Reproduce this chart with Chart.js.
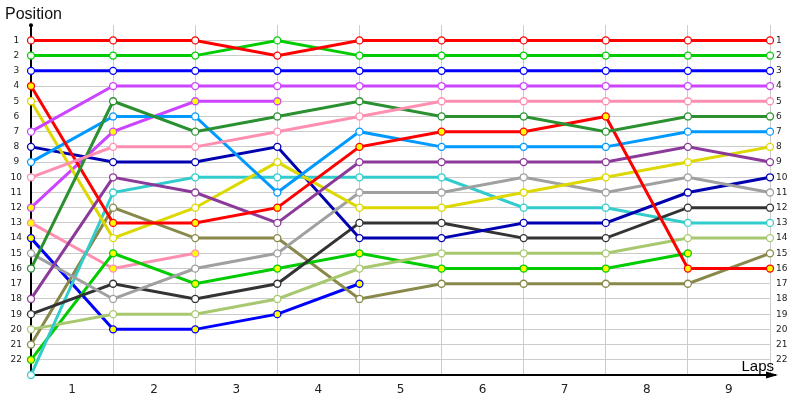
<!DOCTYPE html>
<html>
<head>
<meta charset="utf-8">
<script src="https://cdn.jsdelivr.net/npm/chart.js@4.4.0/dist/chart.umd.min.js"></script>
<style>
  html, body { margin: 0; padding: 0; background: #fff; }
  #wrap { width: 800px; height: 400px; }
</style>
</head>
<body>
<div id="wrap"><canvas id="posChart"></canvas></div>
<script>
// lap gridlines 0..9, labels sit between them
const laps = [0, 1, 2, 3, 4, 5, 6, 7, 8, 9];
const lapLabels = ['1', '2', '3', '4', '5', '6', '7', '8', '9'];
const positionLabels = ['1','2','3','4','5','6','7','8','9','10','11','12','13','14','15','16','17','18','19','20','21','22'];

// positions per lap (null = retired)
const redA       = [1, 1, 1, 2, 1, 1, 1, 1, 1, 1];
const redB       = [4, 13, 13, 12, 8, 7, 7, 6, 16, 16];
const greenA     = [2, 2, 2, 1, 2, 2, 2, 2, 2, 2];
const greenB     = [22, 15, 17, 16, 15, 16, 16, 16, 15, null];
const blueA      = [3, 3, 3, 3, 3, 3, 3, 3, 3, 3];
const blueB      = [14, 20, 20, 19, 17, null, null, null, null, null];
const violetA    = [7, 4, 4, 4, 4, 4, 4, 4, 4, 4];
const violetB    = [12, 7, 5, 5, null, null, null, null, null, null];
const yellow     = [5, 14, 12, 9, 12, 12, 11, 10, 9, 8];
const lightBlue  = [9, 6, 6, 11, 7, 8, 8, 8, 7, 7];
const navy       = [8, 9, 9, 8, 14, 14, 13, 13, 11, 10];
const pinkA      = [10, 8, 8, 7, 6, 5, 5, 5, 5, 5];
const pinkB      = [13, 16, 15, null, null, null, null, null, null, null];
const darkGreen  = [16, 5, 7, 6, 5, 6, 6, 7, 6, 6];
const cyan       = [23, 11, 10, 10, 10, 10, 12, 12, 13, 13];
const purple     = [18, 10, 11, 13, 9, 9, 9, 9, 8, 9];
const gray       = [15, 18, 16, 15, 11, 11, 10, 11, 10, 11];
const black      = [19, 17, 18, 17, 13, 13, 14, 14, 12, 12];
const lightGreen = [20, 19, 19, 18, 16, 15, 15, 15, 14, 14];
const olive      = [21, 12, 14, 14, 18, 17, 17, 17, 17, 15];

function line(values, color, second) {
  return {
    data: laps.map((x, i) => ({ x: x, y: values[i] })),
    borderColor: color,
    backgroundColor: color,
    borderWidth: 3,
    pointRadius: 3.5,
    pointBorderWidth: 1.3,
    pointBorderColor: color,
    pointBackgroundColor: second ? '#ffff00' : '#ffffff',
    tension: 0,
    spanGaps: false,
    clip: false
  };
}

const axisDecor = {
  id: 'axisDecor',
  afterDraw(chart) {
    const { ctx, chartArea: a } = chart;
    ctx.save();
    ctx.fillStyle = '#000';
    ctx.strokeStyle = '#000';
    ctx.lineWidth = 2;
    ctx.beginPath();
    ctx.moveTo(a.right, a.bottom);
    ctx.lineTo(a.right + 6, a.bottom);
    ctx.stroke();
    ctx.beginPath();
    ctx.moveTo(a.right + 8, a.bottom);
    ctx.lineTo(a.right - 4, a.bottom - 3.5);
    ctx.lineTo(a.right - 4, a.bottom + 3.5);
    ctx.closePath();
    ctx.fill();
    ctx.beginPath();
    ctx.arc(a.left, a.top, 2, 0, Math.PI * 2);
    ctx.fill();
    ctx.font = '15px "Liberation Sans"';
    ctx.textAlign = 'right';
    ctx.textBaseline = 'alphabetic';
    ctx.fillText('Laps', a.right + 4, a.bottom - 4);
    ctx.restore();
  }
};

const tickFont = { family: 'DejaVu Sans', size: 9 };

new Chart(document.getElementById('posChart'), {
  type: 'line',
  data: {
    datasets: [
      line(redA, '#ff0000', false),
      line(greenA, '#00cc00', false),
      line(blueA, '#0000ff', false),
      line(violetA, '#cc44ff', false),
      line(pinkA, '#ff8fb0', false),
      line(darkGreen, '#2a9030', false),
      line(redB, '#ff0000', true),
      line(lightBlue, '#0099ff', false),
      line(purple, '#8b3a9a', false),
      line(yellow, '#dcd800', false),
      line(gray, '#a0a0a0', false),
      line(navy, '#0000b0', false),
      line(black, '#333333', false),
      line(cyan, '#33cccc', false),
      line(lightGreen, '#a8c870', false),
      line(greenB, '#00cc00', true),
      line(olive, '#88884a', false),
      line(violetB, '#cc44ff', true),
      line(pinkB, '#ff8fb0', true),
      line(blueB, '#0000ff', true)
    ]
  },
  options: {
    responsive: true,
    maintainAspectRatio: false,
    animation: false,
    layout: { padding: { left: 5 } },
    plugins: {
      legend: { display: false },
      tooltip: { enabled: false },
      title: {
        display: true,
        text: 'Position',
        align: 'start',
        color: '#111',
        font: { family: 'Liberation Sans', size: 16, weight: 'normal' },
        padding: { top: 5, bottom: 1 }
      }
    },
    scales: {
      x: {
        type: 'linear',
        min: 0,
        max: 9,
        afterBuildTicks: (s) => { s.ticks = laps.map(v => ({ value: v })); },
        afterFit: (s) => { s.height = 25; },
        ticks: {
          callback: (v) => lapLabels[v] !== undefined && v < 9 ? lapLabels[v] : '',
          labelOffset: 41,
          maxRotation: 0,
          autoSkip: false,
          padding: 8,
          color: '#222',
          font: { family: 'DejaVu Sans', size: 12 }
        },
        grid: { color: '#cccccc', lineWidth: 1, drawTicks: false },
        border: { color: '#000', width: 2 }
      },
      y: {
        type: 'linear',
        position: 'left',
        reverse: true,
        min: 0,
        max: 23,
        afterBuildTicks: (s) => { s.ticks = Array.from({ length: 24 }, (_, i) => ({ value: i })); },
        afterFit: (s) => { s.width = 26; },
        ticks: {
          callback: (v) => positionLabels[v - 1] !== undefined ? positionLabels[v - 1] : '',
          autoSkip: false,
          crossAlign: 'center',
          padding: 9,
          color: '#222',
          font: tickFont
        },
        grid: {
          drawTicks: false,
          color: (c) => (c.tick && (c.tick.value === 0 || c.tick.value === 23)) ? 'rgba(0,0,0,0)' : '#cccccc'
        },
        border: { color: '#000', width: 2 }
      },
      y2: {
        type: 'linear',
        position: 'right',
        reverse: true,
        min: 0,
        max: 23,
        afterBuildTicks: (s) => { s.ticks = Array.from({ length: 24 }, (_, i) => ({ value: i })); },
        afterFit: (s) => { s.width = 30; },
        ticks: {
          callback: (v) => positionLabels[v - 1] !== undefined ? positionLabels[v - 1] : '',
          autoSkip: false,
          padding: 6,
          color: '#222',
          font: tickFont
        },
        grid: { display: false, drawTicks: false },
        border: { display: false }
      }
    }
  },
  plugins: [axisDecor]
});
</script>
</body>
</html>
